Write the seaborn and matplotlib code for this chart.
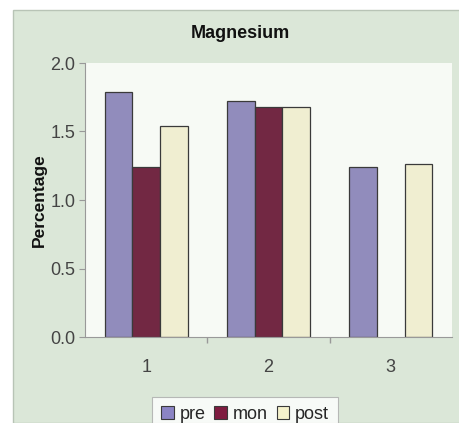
import matplotlib
matplotlib.use("Agg")
import matplotlib.pyplot as plt
import seaborn as sns
import pandas as pd
import numpy as np
from matplotlib.patches import Rectangle

categories = ["1", "2", "3"]
series = ["pre", "mon", "post"]
pre = [1.79, 1.72, 1.24]
mon = [1.24, 1.68, np.nan]
post = [1.54, 1.68, 1.26]
colors = ["#8b84c4", "#7e1c40", "#f5f2cc"]

rows = []
for name, vals in zip(series, [pre, mon, post]):
    for c, v in zip(categories, vals):
        rows.append({"cat": c, "series": name, "value": v})
df = pd.DataFrame(rows)

sns.set_theme(style="white")
plt.rcParams["font.family"] = ["Liberation Sans", "DejaVu Sans"]

fig = plt.figure(figsize=(4.6, 4.23), dpi=100)
fig.patch.set_facecolor("white")
bg = Rectangle((13 / 460, 0), 1 - 13 / 460, 1 - 10 / 423, transform=fig.transFigure,
               facecolor="#dbe7d8", edgecolor="#b8c4b6", linewidth=1, zorder=-10)
fig.patches.append(bg)

ax = fig.add_axes([85 / 460, 1 - 337 / 423, (452 - 85) / 460, (337 - 63) / 423])
ax.set_facecolor("#f7faf5")

sns.barplot(data=df, x="cat", y="value", hue="series", order=categories,
            hue_order=series, palette=colors, width=0.68, ax=ax,
            edgecolor="#3a3a3a", linewidth=0.9, legend=False, errorbar=None)

ax.set_ylim(0, 2.0)
ax.set_xlim(-0.5, 2.5)
ax.set_yticks([0, 0.5, 1.0, 1.5, 2.0])
ax.set_yticklabels(["0.0", "0.5", "1.0", "1.5", "2.0"])
ax.tick_params(axis="y", length=4, width=0.8, color="#999999", labelsize=13,
               labelcolor="#444444", pad=3, left=True, direction="out")
ax.tick_params(axis="x", length=0, labelsize=13, labelcolor="#444444", pad=16)
ax.set_xticks([0.5, 1.5], minor=True)
ax.tick_params(axis="x", which="minor", length=4, color="#999999", bottom=True)
for s in ["top", "right"]:
    ax.spines[s].set_visible(False)
for s in ["left", "bottom"]:
    ax.spines[s].set_color("#999999")
    ax.spines[s].set_linewidth(0.8)
ax.set_xlabel("")
ax.set_ylabel("Percentage", fontsize=12.5, fontweight="bold", labelpad=2, color="#111111")

fig.text(240 / 460, 1 - 34 / 423, "Magnesium", ha="center", va="center",
         fontsize=13, fontweight="bold", color="#111111")

handles = [Rectangle((0, 0), 1, 1, facecolor=c, edgecolor="#3a3a3a", linewidth=0.8)
           for c in colors]
leg = fig.legend(handles, series, loc="upper center", bbox_to_anchor=(245 / 460, 1 - 388 / 423),
                 ncol=3, frameon=True, fontsize=13, handlelength=0.7, handleheight=0.7,
                 handletextpad=0.3, columnspacing=0.5, borderpad=0.5, fancybox=False)
leg.get_frame().set_facecolor("white")
leg.get_frame().set_edgecolor("#aaaaaa")
leg.get_frame().set_linewidth(0.8)

fig.savefig("out.png", dpi=100, facecolor=fig.get_facecolor())
